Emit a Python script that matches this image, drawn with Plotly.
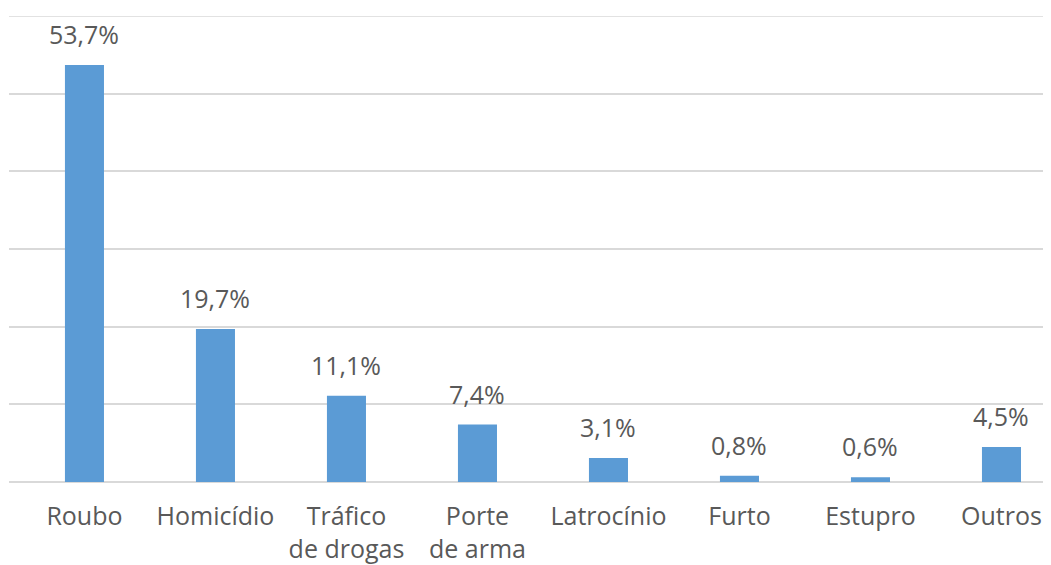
import plotly.graph_objects as go

categories = ["Roubo", "Homicídio", "Tráfico<br>de drogas", "Porte<br>de arma",
              "Latrocínio", "Furto", "Estupro", "Outros"]
values = [53.7, 19.7, 11.1, 7.4, 3.1, 0.8, 0.6, 4.5]
labels = ["53,7%", "19,7%", "11,1%", "7,4%", "3,1%", "0,8%", "0,6%", "4,5%"]
y_max = 60

FONT = "Open Sans"
GREY = "#595959"
GRID = "#d9d9d9"

fig = go.Figure()
fig.add_trace(go.Bar(
    x=list(range(len(categories))), y=values,
    marker=dict(color="#5B9BD5", line=dict(width=0)),
    width=0.298,
    hoverinfo="skip",
))

for i, (v, t) in enumerate(zip(values, labels)):
    fig.add_annotation(x=i, y=v, text=t, showarrow=False, xref="x", yref="y",
                       yanchor="bottom", yshift=12,
                       font=dict(family=FONT, size=25, color=GREY))

# top gridline at the axis maximum (plotly skips the grid line at the range edge)
fig.add_shape(type="line", xref="paper", yref="y", x0=0, x1=1, y0=y_max, y1=y_max,
              line=dict(color=GRID, width=1.5), layer="below")

# page body has an 8px default margin, so the figure is drawn at (8, 8)
fig.update_layout(
    width=1043, height=557,
    margin=dict(l=1, r=0, t=8, b=83),
    paper_bgcolor="white", plot_bgcolor="white",
    showlegend=False,
    xaxis=dict(
        range=[-0.576, 7.378],
        tickmode="array", tickvals=list(range(len(categories))), ticktext=categories,
        showgrid=False, zeroline=False, showline=False,
        ticks="outside", ticklen=12, tickcolor="rgba(0,0,0,0)",
        tickfont=dict(family=FONT, size=25, color=GREY),
        automargin=False,
    ),
    yaxis=dict(
        range=[0, y_max], dtick=10,
        showticklabels=False,
        showgrid=True, gridcolor=GRID, gridwidth=1.5,
        zeroline=True, zerolinecolor=GRID, zerolinewidth=1.5,
        showline=False,
    ),
)

fig.write_html("out.html")
